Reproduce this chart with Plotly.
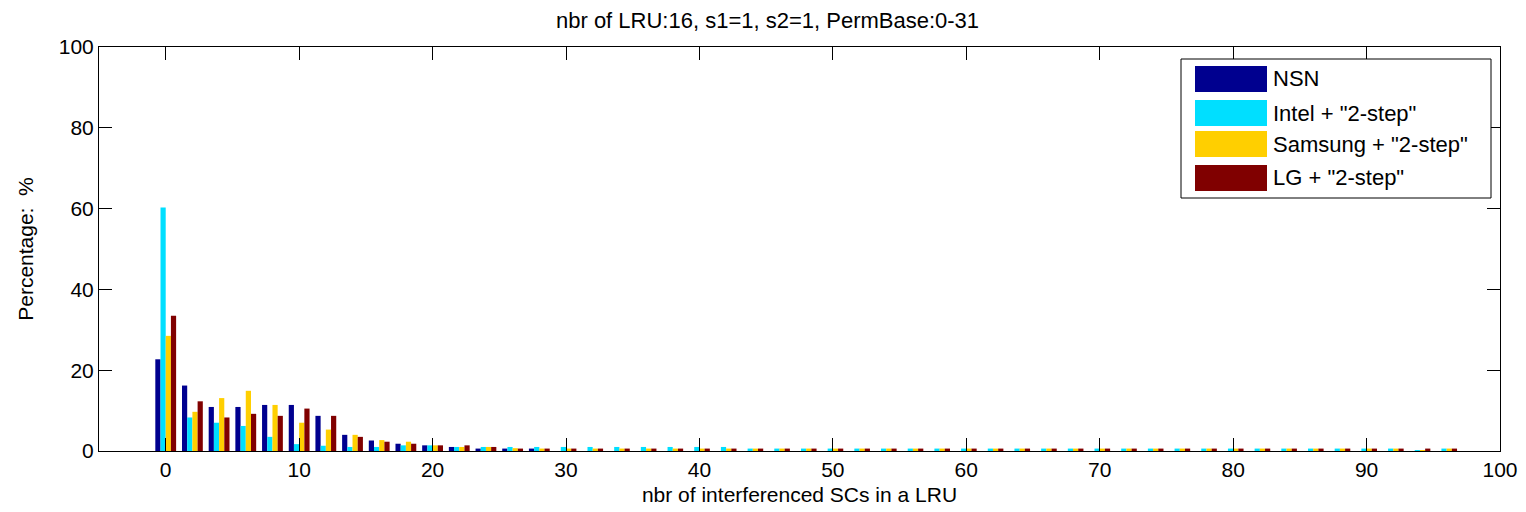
import plotly.graph_objects as go

categories = [0, 2, 4, 6, 8, 10, 12, 14, 16, 18, 20, 22, 24, 26, 28,
              30, 32, 34, 36, 38, 40, 42, 44, 46, 48, 50, 52, 54, 56, 58,
              60, 62, 64, 66, 68, 70, 72, 74, 76, 78, 80, 82, 84, 86, 88,
              90, 92, 94, 96]

nsn = [22.7, 16.2, 10.9, 10.9, 11.4, 11.4, 8.7, 4.0, 2.6, 1.8, 1.4, 1.0, 0.6, 0.6, 0.6,
       0, 0, 0, 0, 0, 0, 0, 0, 0, 0, 0, 0, 0, 0, 0,
       0, 0, 0, 0, 0, 0, 0, 0, 0, 0, 0, 0, 0, 0, 0,
       0, 0, 0, 0]
intel = [60.3, 8.3, 7.0, 6.2, 3.5, 1.7, 1.3, 1.0, 1.0, 1.4, 1.4, 1.0, 1.0, 1.0, 1.0,
         1.0, 1.0, 1.0, 1.0, 1.0, 1.0, 1.0, 0.6, 0.6, 0.6, 0.6, 0.6, 0.6, 0.6, 0.6,
         0.6, 0.6, 0.6, 0.6, 0.6, 0.6, 0.6, 0.6, 0.6, 0.6, 0.6, 0.6, 0.6, 0.6, 0.6,
         0.6, 0.6, 0.2, 0.6]
samsung = [28.5, 9.7, 13.1, 14.9, 11.4, 7.0, 5.3, 4.0, 2.7, 2.3, 1.4, 1.0, 1.0, 0.7, 0.6,
           0.6, 0.6, 0.6, 0.6, 0.6, 0.6, 0.6, 0.6, 0.6, 0.6, 0.6, 0.6, 0.6, 0.6, 0.6,
           0.6, 0.6, 0.6, 0.6, 0.6, 0.6, 0.6, 0.6, 0.6, 0.6, 0.6, 0.6, 0.6, 0.6, 0.6,
           0.6, 0.6, 0.2, 0.6]
lg = [33.5, 12.3, 8.3, 9.2, 8.7, 10.5, 8.7, 3.5, 2.3, 1.8, 1.4, 1.4, 1.0, 0.6, 0.6,
      0.6, 0.6, 0.6, 0.6, 0.6, 0.6, 0.6, 0.6, 0.6, 0.6, 0.6, 0.6, 0.6, 0.6, 0.6,
      0.6, 0.6, 0.6, 0.6, 0.6, 0.6, 0.6, 0.6, 0.6, 0.6, 0.6, 0.6, 0.6, 0.6, 0.6,
      0.6, 0.6, 0.6, 0.6]

series_names = ['NSN', 'Intel + "2-step"', 'Samsung + "2-step"', 'LG + "2-step"']
series_values = [nsn, intel, samsung, lg]
colors = ['#00008F', '#00DFFF', '#FFCF00', '#800000']

x_ticks = [0, 10, 20, 30, 40, 50, 60, 70, 80, 90, 100]
y_ticks = [0, 20, 40, 60, 80, 100]

FONT = "Liberation Sans, Arial, sans-serif"
FS = 22      # legend and title
FS_AX = 21   # tick labels and axis titles

fig = go.Figure()
for name, vals, col in zip(series_names, series_values, colors):
    fig.add_trace(go.Bar(x=categories, y=vals, name=name, marker_color=col,
                         marker_line_width=0, showlegend=False))

# page body has an 8px default margin; shift the figure accordingly
OFF = 8
W, H = 1518, 504
L, T = 91, 39
pw, ph = 1401, 404
R, B = W - L - pw, H - T - ph

def px(xp):
    return (xp - OFF - L) / pw

def py(yp):
    return (T + ph - (yp - OFF)) / ph

shapes = []
annotations = []
# custom legend box
shapes.append(dict(type="rect", xref="paper", yref="paper",
                   x0=px(1181), x1=px(1491), y0=py(198), y1=py(59),
                   line=dict(color="black", width=1), fillcolor="white", layer="above"))
sw_top = [66, 100, 131, 165]
for i, (name, col) in enumerate(zip(series_names, colors)):
    y0 = sw_top[i]
    shapes.append(dict(type="rect", xref="paper", yref="paper",
                       x0=px(1195), x1=px(1267), y0=py(y0 + 26), y1=py(y0),
                       line=dict(width=0), fillcolor=col, layer="above"))
    annotations.append(dict(xref="paper", yref="paper", x=px(1271), y=py(y0 + 13),
                            text=name, showarrow=False, xanchor="left", yanchor="middle",
                            font=dict(family=FONT, size=FS, color="black")))

fig.update_layout(
    width=W, height=H,
    margin=dict(l=L, r=R, t=T, b=B),
    paper_bgcolor="white", plot_bgcolor="white",
    barmode="group", bargap=0.22, bargroupgap=0,
    font=dict(family=FONT, size=FS_AX, color="black"),
    title=dict(text="nbr of LRU:16, s1=1, s2=1, PermBase:0-31",
               x=px(800), xanchor="center", y=1 - 12 / H, yanchor="middle",
               font=dict(family=FONT, size=FS, color="black")),
    xaxis=dict(range=[-5, 100], tickvals=x_ticks, ticks="inside", ticklen=13,
               tickcolor="black", showline=True, linecolor="black", linewidth=1,
               mirror="ticks", showgrid=False, zeroline=False, automargin=False,
               tickfont=dict(family=FONT, size=FS_AX),
               title=dict(text="nbr of interferenced SCs in a LRU", standoff=7,
                          font=dict(family=FONT, size=FS_AX))),
    yaxis=dict(range=[0, 100], tickvals=y_ticks, ticks="inside", ticklen=13,
               tickcolor="black", showline=True, linecolor="black", linewidth=1,
               mirror="ticks", showgrid=False, zeroline=False, automargin=False,
               tickfont=dict(family=FONT, size=FS_AX),
               title=dict(text="Percentage:  %", standoff=19,
                          font=dict(family=FONT, size=FS_AX))),
    shapes=shapes, annotations=annotations,
)

fig.write_html("out.html")
